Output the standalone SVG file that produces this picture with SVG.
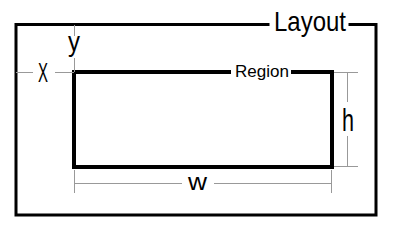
<svg xmlns="http://www.w3.org/2000/svg" width="400" height="250" viewBox="0 0 400 250">
<style>
.frame{fill:none;stroke:#000;stroke-width:3;stroke-linecap:square}
.region{fill:none;stroke:#000;stroke-width:4;stroke-linecap:square}
.dim{fill:none;stroke:#999;stroke-width:1}
text{font-family:"Liberation Sans",Arial,sans-serif;fill:#000}
</style>
<rect width="400" height="250" fill="#fff"/>
<g id="layout">
<path class="frame" d="M268 24.5 H16 V215 H376 V24.5 H350"/>
<text x="274" y="31" font-size="28" textLength="72" lengthAdjust="spacingAndGlyphs">Layout</text>
</g>
<g id="region">
<path class="region" d="M229 72 H74 V167 H332 V72 H293"/>
<text x="235" y="77" font-size="17" textLength="54" lengthAdjust="spacingAndGlyphs">Region</text>
</g>
<g id="connectors">
<path class="dim" d="M16 72.5 H33 M55 72.5 H74"/>
<path class="dim" d="M74.5 25 V36 M74.5 58 V72"/>
<path class="dim" d="M334 72.5 H358 M334 166.5 H358 M347.5 72 V102 M347.5 136 V166"/>
<path class="dim" d="M74.5 170 V193 M331.5 170 V193 M74 183.5 H182 M214 183.5 H331"/>
</g>
<g id="labels">
<text x="38" y="82" font-size="27" textLength="10" lengthAdjust="spacingAndGlyphs">X</text>
<text x="68" y="51" font-size="27" textLength="12" lengthAdjust="spacingAndGlyphs">y</text>
<text x="342" y="131" font-size="31" textLength="12" lengthAdjust="spacingAndGlyphs">h</text>
<text x="188" y="190" font-size="23" textLength="19" lengthAdjust="spacingAndGlyphs">w</text>
</g>
</svg>
